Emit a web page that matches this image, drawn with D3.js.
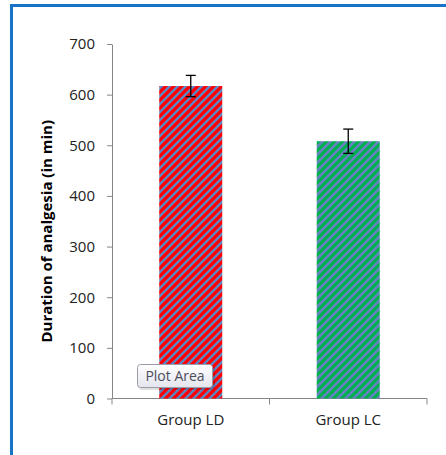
<!DOCTYPE html>
<html><head><meta charset="utf-8">
<script src="https://cdn.jsdelivr.net/npm/d3@7"></script>
<style>
html,body{margin:0;padding:0;background:#fff;}
svg{display:block;}
</style></head>
<body>
<svg id="chart" width="446" height="455"></svg>
<script>
const categories = ["Group LD", "Group LC"];
const values = [617, 508];
const errors = [21, 24];
const fills = ["#ff0000", "#00b050"];
const stripes = ["#5b86c4", "#6a7fc4"];
const yTicks = [0, 100, 200, 300, 400, 500, 600, 700];
const yTitle = "Duration of analgesia (in min)";

const svg = d3.select("#chart");
const font = "'Open Sans', 'Liberation Sans', sans-serif";

// outer border (only left and top visible)
svg.append("rect").attr("x", 11.5).attr("y", 5.5).attr("width", 460).attr("height", 470)
  .attr("fill", "#fff").attr("stroke", "#1673c8").attr("stroke-width", 3);

const defs = svg.append("defs");
fills.forEach((f, i) => {
  const p = defs.append("pattern").attr("id", "pat" + i).attr("patternUnits", "userSpaceOnUse")
    .attr("width", 8).attr("height", 8);
  p.append("rect").attr("width", 8).attr("height", 8).attr("fill", f);
  p.append("path").attr("d", "M-2,2 L2,-2 M0,8 L8,0 M6,10 L10,6")
    .attr("stroke", stripes[i]).attr("stroke-width", 2.4);
});

const x0 = 112, x1 = 427, yTop = 44, yBot = 398.5;
const x = d3.scaleBand().domain(categories).range([x0, x1]).paddingInner(0).paddingOuter(0);
const y = d3.scaleLinear().domain([0, 700]).range([yBot, yTop]);

// y axis
const yAxis = svg.append("g").attr("transform", `translate(${x0},0)`)
  .call(d3.axisLeft(y).tickValues(yTicks).tickSize(5).tickPadding(12).tickSizeOuter(0));
yAxis.select(".domain").attr("stroke", "#868686");
yAxis.selectAll(".tick line").attr("stroke", "#868686");
yAxis.selectAll(".tick text").attr("font-family", font).attr("font-size", 15).attr("fill", "#222");

// x axis
const xAxis = svg.append("g").attr("transform", `translate(0,${yBot})`)
  .call(d3.axisBottom(x).tickSize(0).tickPadding(16));
xAxis.select(".domain").attr("stroke", "#868686").attr("d", `M${x0},0H${x1}`);
xAxis.selectAll(".tick text").attr("font-family", font).attr("font-size", 15).attr("fill", "#222");
// band boundary ticks
const bounds = [x0].concat(categories.map(c => x(c) + x.bandwidth()));
svg.append("g").selectAll("line").data(bounds).join("line")
  .attr("x1", d => d).attr("x2", d => d).attr("y1", yBot).attr("y2", yBot + 6)
  .attr("stroke", "#868686");

// bars
const bw = x.bandwidth() * 0.4;
svg.append("g").selectAll("rect").data(categories).join("rect")
  .attr("x", d => x(d) + (x.bandwidth() - bw) / 2)
  .attr("width", bw)
  .attr("y", (d, i) => y(values[i]))
  .attr("height", (d, i) => y(0) - y(values[i]))
  .attr("fill", (d, i) => `url(#pat${i})`);

// error bars
const eb = svg.append("g").attr("stroke", "#000").attr("stroke-width", 1.3);
categories.forEach((c, i) => {
  const cx = x(c) + x.bandwidth() / 2;
  eb.append("line").attr("x1", cx).attr("x2", cx).attr("y1", y(values[i] + errors[i])).attr("y2", y(values[i] - errors[i]));
  [values[i] + errors[i], values[i] - errors[i]].forEach(v => {
    eb.append("line").attr("x1", cx - 5).attr("x2", cx + 5).attr("y1", y(v)).attr("y2", y(v));
  });
});

// y title
svg.append("text").attr("transform", `translate(52,${(yTop + yBot) / 2 + 10}) rotate(-90)`)
  .attr("text-anchor", "middle").attr("font-family", font).attr("font-size", 15)
  .attr("font-weight", "bold").attr("fill", "#000").text(yTitle);

// tooltip "Plot Area"
const tip = svg.append("g").attr("transform", "translate(137,364)");
const grad = defs.append("linearGradient").attr("id", "tipg").attr("x1", 0).attr("x2", 0).attr("y1", 0).attr("y2", 1);
grad.append("stop").attr("offset", 0).attr("stop-color", "#ffffff");
grad.append("stop").attr("offset", 1).attr("stop-color", "#e4e5ee");
tip.append("rect").attr("x", 2).attr("y", 2).attr("width", 76).attr("height", 24).attr("rx", 3)
  .attr("fill", "#000").attr("opacity", 0.12);
tip.append("rect").attr("x", 0.5).attr("y", 0.5).attr("width", 75).attr("height", 23).attr("rx", 3)
  .attr("fill", "url(#tipg)").attr("stroke", "#9a9ca8");
tip.append("text").attr("x", 38).attr("y", 17).attr("text-anchor", "middle")
  .attr("font-family", font).attr("font-size", 14).attr("fill", "#4c4c5c").text("Plot Area");
</script>
</body></html>
